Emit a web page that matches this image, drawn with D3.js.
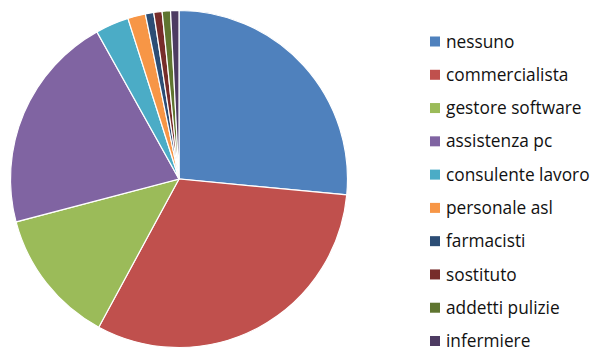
<!DOCTYPE html>
<html>
<head>
<meta charset="utf-8">
<script src="https://cdn.jsdelivr.net/npm/d3@7"></script>
<style>
  body { margin: 0; background: #fff; }
  svg { display: block; }
</style>
</head>
<body>
<svg width="597" height="349"></svg>
<script>
// categories and shares (%)
const categories = ['nessuno', 'commercialista', 'gestore software', 'assistenza pc', 'consulente lavoro',
  'personale asl', 'farmacisti', 'sostituto', 'addetti pulizie', 'infermiere']
const values = [26.5, 31.4, 13.0, 21.0, 3.2, 1.7, 0.8, 0.8, 0.8, 0.8]
const colors = ['#4F81BD', '#C0504D', '#9BBB59', '#8064A2', '#4BACC6',
  '#F79646', '#2C4D75', '#772C2A', '#5F7530', '#4D3B62']

const svg = d3.select('svg')
const data = categories.map((c, i) => ({ name: c, value: values[i] }))

const color = d3.scaleOrdinal().domain(categories).range(colors)

// pie
const pie = d3.pie().value(d => d.value).sort(null)
const arc = d3.arc().innerRadius(0).outerRadius(168.5)

const pieGroup = svg.append('g').attr('transform', 'translate(179,179)')
pieGroup.selectAll('path')
  .data(pie(data))
  .enter().append('path')
  .attr('d', arc)
  .attr('fill', d => color(d.data.name))
  .attr('stroke', '#fff')
  .attr('stroke-width', 1.2)

// legend
const legendY = d3.scalePoint().domain(categories).range([41.5, 341])
const legend = svg.append('g').attr('class', 'legend')
const rows = legend.selectAll('g')
  .data(categories)
  .enter().append('g')
  .attr('transform', d => `translate(430,${legendY(d)})`)

rows.append('rect')
  .attr('x', 0).attr('y', -5)
  .attr('width', 10).attr('height', 10)
  .attr('fill', d => color(d))

rows.append('text')
  .attr('x', 16)
  .attr('dy', '0.35em')
  .attr('font-family', "'Open Sans', sans-serif")
  .attr('font-size', 17.3)
  .attr('fill', '#111')
  .text(d => d)
</script>
</body>
</html>
